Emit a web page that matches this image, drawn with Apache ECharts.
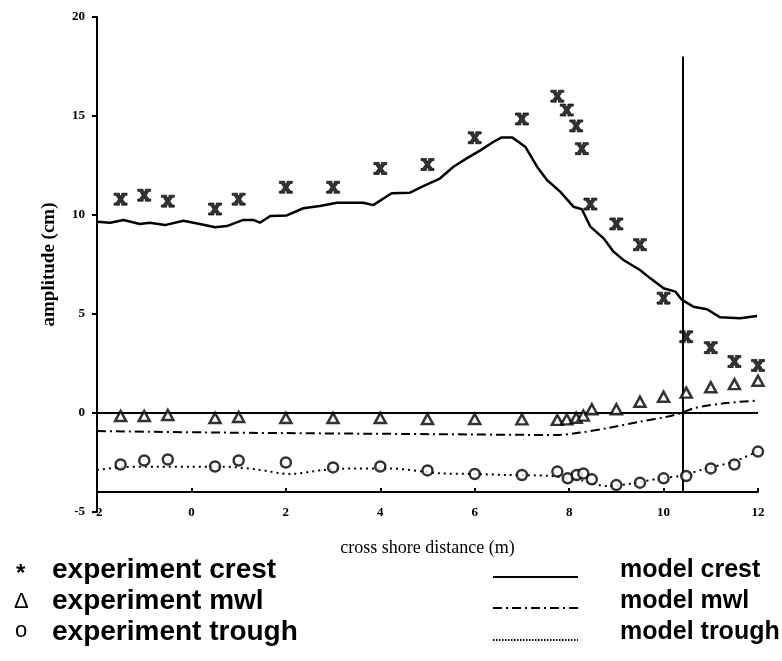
<!DOCTYPE html>
<html>
<head>
<meta charset="utf-8">
<script src="https://cdn.jsdelivr.net/npm/echarts@6/dist/echarts.min.js"></script>
<style>
  html, body { margin: 0; padding: 0; background: #fff; }
  #chart { width: 782px; height: 661px; }
</style>
</head>
<body>
<div id="chart"></div>
<script>
// --- data ---
const expCrestX = [-1.5, -1, -0.5, 0.5, 1, 2, 3, 4, 5, 6, 7, 7.75, 7.95, 8.15, 8.27, 8.45, 9, 9.5, 10, 10.48, 11, 11.5, 12];
const expCrestY = [10.8, 11.0, 10.7, 10.3, 10.8, 11.4, 11.4, 12.35, 12.55, 13.9, 14.85, 16.0, 15.3, 14.5, 13.35, 10.55, 9.55, 8.5, 5.8, 3.85, 3.3, 2.6, 2.4];

const expMwlX = [-1.5, -1, -0.5, 0.5, 1, 2, 3, 4, 5, 6, 7, 7.75, 7.95, 8.15, 8.3, 8.48, 9, 9.5, 10, 10.48, 11, 11.5, 12];
const expMwlY = [-0.15, -0.15, -0.1, -0.25, -0.2, -0.25, -0.25, -0.25, -0.3, -0.3, -0.32, -0.35, -0.32, -0.24, -0.13, 0.19, 0.19, 0.57, 0.82, 1.03, 1.3, 1.46, 1.63];

const expTroughX = [-1.5, -1, -0.5, 0.5, 1, 2, 3, 4, 5, 6, 7, 7.75, 7.97, 8.16, 8.3, 8.48, 9, 9.5, 10, 10.48, 11, 11.5, 12];
const expTroughY = [-2.6, -2.4, -2.35, -2.7, -2.4, -2.5, -2.75, -2.7, -2.9, -3.08, -3.13, -2.96, -3.3, -3.13, -3.05, -3.35, -3.64, -3.52, -3.3, -3.18, -2.8, -2.6, -1.95];

const modelCrestX = [-2, -1.72, -1.44, -1.09, -0.88, -0.56, -0.17, 0.18, 0.5, 0.75, 1.1, 1.31, 1.45, 1.67, 2.02, 2.37, 2.72, 3.08, 3.64, 3.85, 4.24, 4.63, 4.91, 5.25, 5.55, 5.83, 6.11, 6.4, 6.57, 6.79, 7.07, 7.32, 7.53, 7.81, 8.09, 8.27, 8.45, 8.73, 8.94, 9.15, 9.5, 9.72, 10, 10.25, 10.39, 10.63, 10.92, 11.2, 11.62, 11.98];
const modelCrestY = [9.66, 9.61, 9.75, 9.55, 9.61, 9.49, 9.71, 9.55, 9.38, 9.44, 9.75, 9.75, 9.61, 9.95, 9.98, 10.34, 10.45, 10.62, 10.62, 10.5, 11.1, 11.13, 11.46, 11.82, 12.44, 12.86, 13.25, 13.7, 13.92, 13.92, 13.45, 12.44, 11.77, 11.18, 10.42, 10.29, 9.41, 8.82, 8.15, 7.73, 7.22, 6.8, 6.3, 6.13, 5.71, 5.37, 5.24, 4.83, 4.78, 4.9];

const modelMwlX = [-2, 0.7, 5.2, 7.74, 8.23, 8.8, 9.5, 10.07, 10.35, 10.64, 11.27, 11.94];
const modelMwlY = [-0.91, -0.99, -1.07, -1.11, -0.99, -0.77, -0.44, -0.19, -0.02, 0.24, 0.49, 0.62];

const modelTroughX = [-2, -1.45, -0.74, -0.03, 0.68, 1.38, 2.09, 2.79, 3.5, 4.21, 4.91, 5.27, 5.97, 6.68, 7.6, 8.23, 8.8, 9.36, 9.93, 10.35, 10.92, 11.48, 11.98];
const modelTroughY = [-2.88, -2.73, -2.71, -2.71, -2.71, -2.85, -3.08, -2.88, -2.8, -2.8, -2.96, -3.05, -3.08, -3.13, -3.18, -3.38, -3.69, -3.55, -3.3, -3.18, -2.79, -2.46, -1.95];

const xTicks = [-2, 0, 2, 4, 6, 8, 10, 12];
const yTicks = [-5, 0, 5, 10, 15, 20];
const breakerX = 10.4;

// 带衬线的粗 X 形记号，对应原图里的 "*"
const crestSymbol = 'path://M0,0H4.2V1.2L5,2.6L5.8,1.2V0H10V1.8H8.6L6.6,5L8.6,8.2H10V10H5.8V8.8L5,7.4L4.2,8.8V10H0V8.2H1.4L3.4,5L1.4,1.8H0Z';

const zip = (xs, ys) => xs.map((x, i) => [x, ys[i]]);

const chart = echarts.init(document.getElementById('chart'));

const serifBold = { fontFamily: 'Liberation Serif', fontWeight: 'bold', color: '#000' };
const leftFont = { fontFamily: 'Liberation Sans', fontWeight: 'bold', fontSize: 28, fill: '#000' };
const rightFont = { fontFamily: 'Liberation Sans', fontWeight: 'bold', fontSize: 25, fill: '#000' };

chart.setOption({
  animation: false,
  backgroundColor: '#fff',
  grid: { left: 97, right: 24, top: 17, bottom: 149 },
  xAxis: {
    type: 'value',
    min: xTicks[0], max: xTicks[xTicks.length - 1], interval: 2,
    offset: -20,
    name: 'cross shore distance (m)',
    nameLocation: 'middle',
    nameGap: 47,
    nameTextStyle: { fontFamily: 'Liberation Serif', fontSize: 18, color: '#000' },
    axisLine: { show: true, onZero: false, lineStyle: { color: '#000', width: 2 } },
    axisTick: { show: true, length: 4, inside: true, lineStyle: { color: '#000', width: 2 } },
    axisLabel: { ...serifBold, fontSize: 13, margin: 21, verticalAlign: 'middle' },
    splitLine: { show: false }
  },
  yAxis: {
    type: 'value',
    min: yTicks[0], max: yTicks[yTicks.length - 1], interval: 5,
    name: 'amplitude (cm)',
    nameLocation: 'middle',
    nameGap: 38,
    nameRotate: 90,
    nameTextStyle: { ...serifBold, fontSize: 19 },
    axisLine: { show: true, onZero: false, lineStyle: { color: '#000', width: 2 } },
    axisTick: { show: true, length: 5, lineStyle: { color: '#000', width: 2 } },
    axisLabel: { ...serifBold, fontSize: 13, margin: 12 },
    splitLine: { show: false }
  },
  series: [
    {
      name: 'model crest',
      type: 'line',
      data: zip(modelCrestX, modelCrestY),
      symbol: 'none',
      lineStyle: { color: '#000', width: 2.5 },
      z: 3,
      markLine: {
        silent: true,
        symbol: 'none',
        label: { show: false },
        lineStyle: { color: '#000', width: 2, type: 'solid' },
        data: [
          { yAxis: 0 },
          [{ coord: [breakerX, -4] }, { coord: [breakerX, 18] }]
        ]
      }
    },
    {
      name: 'model mwl',
      type: 'line',
      data: zip(modelMwlX, modelMwlY),
      symbol: 'none',
      smooth: 0.3,
      lineStyle: { color: '#000', width: 2, type: [9, 4, 2, 4] },
      z: 3
    },
    {
      name: 'model trough',
      type: 'line',
      data: zip(modelTroughX, modelTroughY),
      symbol: 'none',
      smooth: 0.3,
      lineStyle: { color: '#000', width: 2, type: [2, 4] },
      z: 3
    },
    {
      name: 'experiment crest',
      type: 'scatter',
      data: zip(expCrestX, expCrestY),
      symbol: crestSymbol,
      symbolSize: [13, 12],
      itemStyle: { color: '#000', borderColor: '#000', borderWidth: 0.8 },
      z: 5
    },
    {
      name: 'experiment mwl',
      type: 'scatter',
      data: zip(expMwlX, expMwlY),
      symbol: 'triangle',
      symbolSize: [11, 10],
      itemStyle: { color: '#fff', borderColor: '#000', borderWidth: 2.5 },
      z: 5
    },
    {
      name: 'experiment trough',
      type: 'scatter',
      data: zip(expTroughX, expTroughY),
      symbol: 'circle',
      symbolSize: 10,
      itemStyle: { color: '#fff', borderColor: '#000', borderWidth: 2.5 },
      z: 5
    }
  ],
  // 图例：按原图做成两列文字 + 线型示例
  graphic: [
    { type: 'text', left: 16, top: 562, style: { text: '*', ...leftFont, fontSize: 24 } },
    { type: 'text', left: 52, top: 556, style: { text: 'experiment crest', ...leftFont } },
    { type: 'text', left: 14, top: 591, style: { text: 'Δ', ...leftFont, fontWeight: 'normal', fontSize: 22 } },
    { type: 'text', left: 52, top: 587, style: { text: 'experiment mwl', ...leftFont } },
    { type: 'text', left: 15, top: 620, style: { text: 'o', ...leftFont, fontWeight: 'normal', fontSize: 22 } },
    { type: 'text', left: 52, top: 618, style: { text: 'experiment trough', ...leftFont } },

    { type: 'line', shape: { x1: 493, y1: 577, x2: 578, y2: 577 }, style: { stroke: '#000', lineWidth: 2 } },
    { type: 'text', left: 620, top: 558, style: { text: 'model crest', ...rightFont } },
    { type: 'line', shape: { x1: 493, y1: 608, x2: 578, y2: 608 }, style: { stroke: '#000', lineWidth: 2, lineDash: [9, 4, 2, 4] } },
    { type: 'text', left: 620, top: 589, style: { text: 'model mwl', ...rightFont } },
    { type: 'line', shape: { x1: 493, y1: 640, x2: 578, y2: 640 }, style: { stroke: '#000', lineWidth: 2, lineDash: [1.5, 1.5] } },
    { type: 'text', left: 620, top: 620, style: { text: 'model trough', ...rightFont } }
  ]
});
</script>
</body>
</html>
